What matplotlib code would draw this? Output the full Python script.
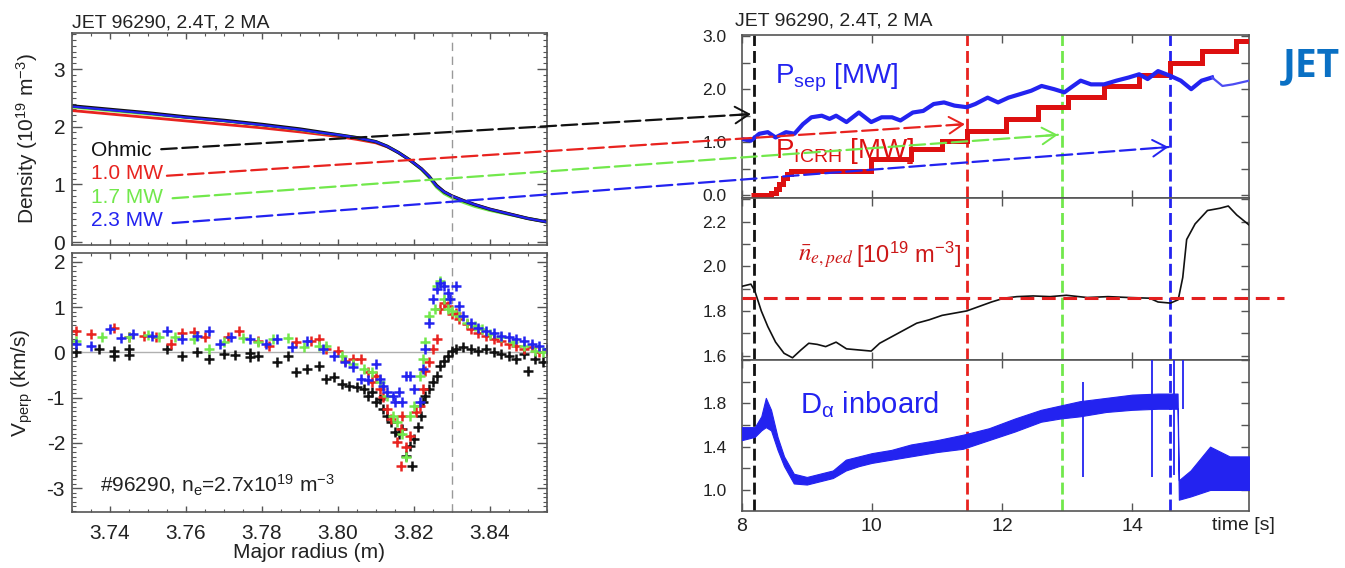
import numpy as np
import matplotlib
matplotlib.use("Agg")
import matplotlib.pyplot as plt
from matplotlib.patches import ConnectionPatch, FancyArrowPatch
from matplotlib.ticker import MultipleLocator, FormatStrFormatter, FuncFormatter

plt.rcParams['font.family'] = ['Liberation Sans', 'DejaVu Sans']
plt.rcParams['mathtext.fontset'] = 'custom'
plt.rcParams['mathtext.rm'] = 'Liberation Sans'
plt.rcParams['mathtext.it'] = 'Liberation Sans:italic'
plt.rcParams['mathtext.bf'] = 'Liberation Sans:bold'
plt.rcParams['axes.unicode_minus'] = False

# ---------------- data: density profiles (left top) ----------------
r_prof = [3.730, 3.740, 3.750, 3.760, 3.770, 3.780, 3.790, 3.795, 3.800, 3.805,
          3.810, 3.813, 3.816, 3.819, 3.822, 3.824, 3.826, 3.828, 3.830, 3.833,
          3.836, 3.840, 3.845, 3.850, 3.855]
n_ohmic = [2.36, 2.30, 2.24, 2.17, 2.11, 2.04, 1.96, 1.91, 1.86, 1.81, 1.74, 1.66, 1.55,
           1.42, 1.27, 1.14, 0.98, 0.87, 0.80, 0.72, 0.65, 0.57, 0.49, 0.41, 0.35]
n_10mw = [2.28, 2.22, 2.16, 2.10, 2.04, 1.98, 1.91, 1.87, 1.83, 1.78, 1.72, 1.65, 1.55,
          1.42, 1.27, 1.14, 0.97, 0.87, 0.80, 0.72, 0.65, 0.57, 0.49, 0.41, 0.35]
n_17mw = [2.34, 2.28, 2.22, 2.16, 2.10, 2.03, 1.95, 1.90, 1.86, 1.81, 1.74, 1.66, 1.55,
          1.42, 1.26, 1.12, 0.95, 0.84, 0.77, 0.69, 0.62, 0.55, 0.48, 0.41, 0.35]
n_23mw = [2.35, 2.29, 2.23, 2.16, 2.10, 2.03, 1.95, 1.90, 1.86, 1.81, 1.74, 1.66, 1.55,
          1.42, 1.27, 1.14, 0.97, 0.87, 0.80, 0.72, 0.65, 0.57, 0.49, 0.41, 0.35]

# ---------------- data: V_perp (left bottom) ----------------
r_ohm = [3.731, 3.737, 3.741, 3.741, 3.745, 3.745, 3.755, 3.759, 3.763, 3.766, 3.770, 3.773,
         3.777, 3.777, 3.779, 3.784, 3.787, 3.789, 3.792, 3.795, 3.797, 3.799, 3.801, 3.803,
         3.805, 3.807, 3.808, 3.809, 3.810, 3.811, 3.812, 3.813, 3.814, 3.815, 3.816, 3.817,
         3.818, 3.819, 3.8195, 3.820, 3.821, 3.822, 3.8225, 3.823, 3.824, 3.825, 3.826, 3.827,
         3.828, 3.829, 3.830, 3.831, 3.833, 3.835, 3.837, 3.839, 3.841, 3.843, 3.845, 3.847,
         3.849, 3.850, 3.852, 3.854]
v_ohm = [0.0, 0.07, 0.04, -0.07, 0.07, -0.06, 0.07, -0.07, 0.0, -0.15, -0.04, -0.06,
         -0.02, -0.09, -0.07, -0.22, -0.07, -0.44, -0.37, -0.29, -0.59, -0.55, -0.70, -0.74,
         -0.77, -0.81, -0.96, -0.88, -1.10, -1.03, -1.25, -1.40, -1.54, -1.76, -1.80, -1.69,
         -2.28, -2.06, -2.50, -1.91, -1.65, -1.40, -1.10, -0.96, -0.81, -0.66, -0.51, -0.29,
         -0.18, -0.07, 0.04, 0.07, 0.11, 0.07, 0.04, 0.07, 0.0, -0.04, -0.07, -0.15,
         -0.04, -0.40, -0.15, -0.22]

r_10 = [3.731, 3.735, 3.741, 3.745, 3.749, 3.752, 3.756, 3.759, 3.762, 3.765, 3.771, 3.774,
        3.779, 3.782, 3.789, 3.793, 3.795, 3.797, 3.800, 3.802, 3.804, 3.806, 3.808, 3.809,
        3.810, 3.811, 3.812, 3.813, 3.814, 3.8155, 3.8165, 3.8165, 3.817, 3.818, 3.819, 3.8205,
        3.8215, 3.8225, 3.823, 3.824, 3.825, 3.826, 3.827, 3.828, 3.829, 3.830, 3.831, 3.832,
        3.834, 3.835, 3.837, 3.839, 3.841, 3.843, 3.845, 3.847, 3.849, 3.851, 3.853, 3.855]
v_10 = [0.48, 0.40, 0.55, 0.33, 0.37, 0.33, 0.18, 0.44, 0.46, 0.33, 0.33, 0.48,
        0.26, 0.15, 0.22, 0.26, 0.29, 0.07, 0.04, -0.18, -0.15, -0.15, -0.44, -0.66,
        -0.51, -0.81, -0.99, -1.25, -1.47, -1.99, -1.69, -2.50, -1.40, -2.10, -1.84, -1.32,
        -1.18, -0.81, -0.40, -0.22, 0.07, 0.29, 0.96, 1.10, 1.03, 0.85, 0.88, 0.74,
        0.63, 0.51, 0.44, 0.37, 0.29, 0.26, 0.18, 0.15, 0.07, 0.11, 0.0, 0.04]

r_17 = [3.731, 3.738, 3.745, 3.750, 3.753, 3.757, 3.762, 3.766, 3.770, 3.775, 3.779, 3.783,
        3.787, 3.791, 3.795, 3.797, 3.801, 3.804, 3.807, 3.809, 3.811, 3.813, 3.8145, 3.8155,
        3.817, 3.818, 3.819, 3.820, 3.8215, 3.8225, 3.823, 3.824, 3.8255, 3.826, 3.827, 3.828,
        3.829, 3.830, 3.832, 3.834, 3.836, 3.838, 3.840, 3.843, 3.846, 3.849, 3.852, 3.854]
v_17 = [0.26, 0.33, 0.35, 0.38, 0.33, 0.33, 0.29, 0.07, 0.22, 0.31, 0.22, 0.29,
        0.31, 0.11, 0.15, 0.15, -0.07, -0.26, -0.37, -0.44, -0.66, -0.96, -1.40, -1.54,
        -1.80, -2.32, -1.40, -1.18, -0.51, -0.15, 0.22, 0.81, 0.96, 1.47, 1.58, 1.18,
        0.96, 0.92, 0.81, 0.66, 0.59, 0.51, 0.40, 0.33, 0.22, 0.15, 0.04, 0.0]

r_23 = [3.731, 3.735, 3.740, 3.743, 3.746, 3.751, 3.755, 3.759, 3.763, 3.766, 3.769, 3.772,
        3.777, 3.781, 3.784, 3.788, 3.792, 3.796, 3.799, 3.802, 3.804, 3.806, 3.808, 3.810,
        3.811, 3.812, 3.813, 3.8145, 3.815, 3.816, 3.817, 3.818, 3.819, 3.820, 3.8215, 3.8225,
        3.823, 3.824, 3.825, 3.826, 3.827, 3.828, 3.829, 3.8295, 3.831, 3.832, 3.833, 3.835,
        3.837, 3.839, 3.841, 3.843, 3.845, 3.847, 3.849, 3.851, 3.853, 3.855]
v_23 = [0.18, 0.15, 0.51, 0.31, 0.40, 0.37, 0.48, 0.29, 0.37, 0.48, 0.18, 0.35,
        0.29, 0.18, 0.29, 0.11, 0.26, 0.07, -0.07, -0.22, -0.33, -0.59, -0.62, -0.26,
        -0.59, -0.74, -0.88, -0.96, -1.10, -0.88, -1.10, -0.51, -0.51, -0.81, -1.10, -0.37,
        0.07, 0.66, 1.18, 1.40, 1.54, 1.47, 1.32, 1.18, 1.47, 1.03, 0.81, 0.66,
        0.55, 0.48, 0.44, 0.37, 0.33, 0.29, 0.26, 0.18, 0.15, 0.07]

# ---------------- data: time traces (right) ----------------
t_psep = [8.0, 8.14, 8.27, 8.40, 8.52, 8.68, 8.81, 8.94, 9.07, 9.23, 9.35, 9.45, 9.61,
          9.80, 9.99, 10.15, 10.31, 10.44, 10.63, 10.79, 10.95, 11.11, 11.27, 11.46,
          11.59, 11.78, 11.94, 12.10, 12.29, 12.45, 12.61, 12.80, 12.96, 13.06, 13.21,
          13.37, 13.57, 13.76, 13.95, 14.11, 14.24, 14.40, 14.59, 14.75, 14.91, 15.07,
          15.23, 15.39, 15.55, 15.80]
p_sep = [1.06, 1.03, 1.16, 1.19, 1.09, 1.19, 1.16, 1.34, 1.47, 1.50, 1.44, 1.50, 1.38,
         1.56, 1.38, 1.47, 1.47, 1.41, 1.56, 1.59, 1.72, 1.75, 1.69, 1.66, 1.72, 1.84,
         1.75, 1.84, 1.91, 1.97, 2.06, 2.00, 1.94, 2.03, 2.16, 2.09, 2.09, 2.16, 2.22,
         2.28, 2.19, 2.34, 2.25, 2.16, 2.00, 2.16, 2.22, 2.06, 2.09, 2.16]

icrh_edges = [8.14, 8.45, 8.52, 8.58, 8.64, 8.70, 8.76, 9.99, 10.60, 11.08, 11.46, 12.07,
              12.55, 13.02, 13.57, 14.10, 14.59, 15.07, 15.60, 15.80]
icrh_levels = [0.0, 0.05, 0.12, 0.22, 0.32, 0.40, 0.45, 0.68, 0.88, 1.02, 1.22, 1.44,
               1.66, 1.86, 2.06, 2.27, 2.50, 2.72, 2.90]

t_ne = [8.0, 8.14, 8.20, 8.30, 8.40, 8.52, 8.65, 8.78, 8.91, 9.03, 9.16, 9.29, 9.45, 9.61,
        9.80, 9.99, 10.12, 10.31, 10.50, 10.69, 10.88, 11.08, 11.27, 11.46, 11.65, 11.84,
        12.03, 12.23, 12.48, 12.74, 12.99, 13.31, 13.63, 13.95, 14.27, 14.40, 14.59, 14.71,
        14.78, 14.84, 14.97, 15.16, 15.35, 15.48, 15.61, 15.80]
ne_ped = [1.91, 1.92, 1.89, 1.80, 1.73, 1.66, 1.61, 1.59, 1.625, 1.655, 1.65, 1.64, 1.66,
          1.63, 1.625, 1.62, 1.655, 1.685, 1.715, 1.745, 1.76, 1.78, 1.79, 1.80, 1.82, 1.84,
          1.857, 1.864, 1.867, 1.864, 1.87, 1.86, 1.864, 1.86, 1.857, 1.84, 1.835, 1.85,
          1.95, 2.12, 2.19, 2.25, 2.26, 2.27, 2.23, 2.185]
ne_ref = 1.86

t_da = [8.0, 8.2, 8.3, 8.37, 8.45, 8.55, 8.65, 8.8, 9.0, 9.2, 9.4, 9.6, 9.8, 10.0, 10.3,
        10.6, 11.0, 11.4, 11.8, 12.2, 12.6, 12.9, 13.2, 13.6, 14.0, 14.4, 14.7, 14.72, 14.9,
        15.2, 15.5, 15.8]
da_lo = [1.46, 1.49, 1.55, 1.58, 1.55, 1.37, 1.22, 1.06, 1.05, 1.08, 1.11, 1.18, 1.22, 1.25,
         1.28, 1.31, 1.35, 1.38, 1.46, 1.54, 1.63, 1.66, 1.68, 1.72, 1.74, 1.75, 1.75, 0.91,
         0.94, 1.00, 1.00, 1.00]
da_hi = [1.58, 1.58, 1.68, 1.85, 1.74, 1.49, 1.31, 1.15, 1.12, 1.15, 1.18, 1.28, 1.31, 1.34,
         1.37, 1.42, 1.46, 1.51, 1.57, 1.66, 1.74, 1.78, 1.82, 1.85, 1.88, 1.89, 1.89, 1.09,
         1.18, 1.40, 1.31, 1.31]
spike_t = [13.25, 14.30, 14.65, 14.78]
spike_lo = [1.12, 1.12, 1.14, 1.75]
spike_hi = [2.00, 2.20, 2.20, 2.20]

# times marked on the traces, and the arrows linking the two halves
mark_times = [8.19, 11.46, 12.93, 14.59]
case_labels = ["Ohmic", "1.0 MW", "1.7 MW", "2.3 MW"]
arrow_start = [(3.7535, 1.61), (3.7550, 1.15), (3.7565, 0.76), (3.7565, 0.33)]
arrow_end = [(8.14, 1.53), (11.43, 1.34), (12.86, 1.14), (14.56, 0.91)]

RED = '#e8231f'
GREEN = '#72e84c'
BLUE = '#2323f0'
BLACK = '#111111'
SPINE = '#555555'
case_colors = [BLACK, RED, GREEN, BLUE]


def idl_style(ax, size, major_len, minor_len):
    for s in ax.spines.values():
        s.set_color(SPINE)
        s.set_linewidth(1.2)
    ax.tick_params(which='both', direction='in', top=True, right=True,
                   colors=SPINE, labelcolor='#222222', labelsize=size)
    ax.tick_params(which='major', length=major_len, width=1.0)
    ax.tick_params(which='minor', length=minor_len, width=0.8)


fig = plt.figure(figsize=(13.45, 5.68), dpi=100)
axL1 = fig.add_axes([0.0535, 0.5687, 0.3530, 0.3738])
axL2 = fig.add_axes([0.0535, 0.0991, 0.3530, 0.4549])
axR1 = fig.add_axes([0.5515, 0.6514, 0.3772, 0.2870])
axR2 = fig.add_axes([0.5515, 0.3662, 0.3772, 0.2852])
axR3 = fig.add_axes([0.5515, 0.1004, 0.3772, 0.2658])

# ---- left top: density profiles ----
axL1.plot(r_prof, n_10mw, color=RED, lw=2.0)
axL1.plot(r_prof, n_17mw, color=GREEN, lw=2.2)
axL1.plot(r_prof, n_ohmic, color=BLACK, lw=2.4)
axL1.plot(r_prof, n_23mw, color=BLUE, lw=1.6)
axL1.axvline(3.83, color='#999999', lw=1.0, ls=(0, (6, 4)))
axL1.set_xlim(3.73, 3.855)
axL1.set_ylim(-0.05, 3.63)
idl_style(axL1, 15, 7, 3)
axL1.xaxis.set_major_locator(MultipleLocator(0.02))
axL1.xaxis.set_minor_locator(MultipleLocator(0.005))
axL1.yaxis.set_major_locator(MultipleLocator(1))
axL1.yaxis.set_minor_locator(MultipleLocator(0.1))
axL1.tick_params(axis='x', which='major', length=4)
axL1.tick_params(axis='x', which='minor', length=2.5)
axL1.tick_params(axis='y', pad=5)
axL1.set_xticklabels([])
axL1.set_ylabel(r"Density (10$^{19}$ m$^{-3}$)", fontsize=15, color='#222222')
axL1.yaxis.set_label_coords(-0.068, 0.5)
label_y = [0.447, 0.336, 0.224, 0.113]
for lab, col, ly in zip(case_labels, case_colors, label_y):
    axL1.text(0.040, ly, lab, color=col, fontsize=15, va='center', ha='left',
              transform=axL1.transAxes)

# ---- left bottom: V_perp ----
axL2.axhline(0, color='#b0b0b0', lw=1.0)
axL2.axvline(3.83, color='#999999', lw=1.0, ls=(0, (6, 4)))
for rr, vv, col in [(r_ohm, v_ohm, BLACK), (r_10, v_10, RED), (r_17, v_17, GREEN),
                    (r_23, v_23, BLUE)]:
    axL2.plot(rr, vv, ls='none', marker='+', ms=7, mew=1.8, color=col)
axL2.set_xlim(3.73, 3.855)
axL2.set_ylim(-3.52, 2.19)
idl_style(axL2, 15, 7, 3)
axL2.xaxis.set_major_locator(MultipleLocator(0.02))
axL2.xaxis.set_minor_locator(MultipleLocator(0.005))
axL2.xaxis.set_major_formatter(FormatStrFormatter('%.2f'))
axL2.yaxis.set_major_locator(MultipleLocator(1))
axL2.yaxis.set_minor_locator(MultipleLocator(0.1))
axL2.tick_params(axis='x', which='major', length=4, pad=9)
axL2.tick_params(axis='x', which='minor', length=2.5)
axL2.tick_params(axis='y', pad=5)
axL2.set_ylabel(r"V$_{\rm perp}$ (km/s)", fontsize=15, color='#222222')
axL2.yaxis.set_label_coords(-0.078, 0.5)
axL2.set_xlabel("Major radius (m)", fontsize=15, color='#222222')
axL2.xaxis.set_label_coords(0.5, -0.122)
axL2.text(0.059, 0.103, r"#96290, n$_{\rm e}$=2.7x10$^{19}$ m$^{-3}$", fontsize=15,
          color='#222222', va='center', transform=axL2.transAxes)

# ---- right panels ----
for ax in (axR1, axR2, axR3):
    for t, col in zip(mark_times, case_colors):
        ax.axvline(t, color=col, lw=2.0, ls=(0, (4.3, 1.8)), zorder=1)
    ax.set_xlim(8.0, 15.8)
    idl_style(ax, 12.5, 6, 3)
    ax.xaxis.set_major_locator(MultipleLocator(2))
    ax.tick_params(axis='y', pad=11)

# top: powers
axR1.stairs(icrh_levels, icrh_edges, baseline=None, color='#dd1010', lw=3.6, zorder=3)
psep_cut = 46
axR1.plot(t_psep[:psep_cut + 1], p_sep[:psep_cut + 1], color=BLUE, lw=3.0, zorder=4)
axR1.plot(t_psep[psep_cut:], p_sep[psep_cut:], color='#4c4cf2', lw=1.6, zorder=4)
axR1.set_ylim(-0.05, 3.02)
axR1.yaxis.set_major_locator(MultipleLocator(0.5))
axR1.yaxis.set_major_formatter(FuncFormatter(
    lambda v, p: f"{v:.1f}" if abs(v - round(v)) < 1e-6 else ""))
axR1.set_xticklabels([])
axR1.text(0.066, 0.705, r"P$_{\rm sep}$ [MW]", color=BLUE, fontsize=20,
          transform=axR1.transAxes, va='baseline')
axR1.text(0.066, 0.245, r"P$_{\rm ICRH}$ [MW]", color='#dd1010', fontsize=20,
          transform=axR1.transAxes, va='baseline', zorder=2)

# middle: pedestal density
axR2.plot(t_ne, ne_ped, color=BLACK, lw=1.2, zorder=3)
axR2.plot([8.0, 16.33], [ne_ref, ne_ref], color='#e32020', lw=2.2,
          ls=(0, (4.5, 2.5)), clip_on=False, zorder=4)
axR2.set_ylim(1.58, 2.306)
axR2.yaxis.set_major_locator(MultipleLocator(0.1))
axR2.yaxis.set_major_formatter(FuncFormatter(
    lambda v, p: f"{v:.1f}" if round(v * 10) % 2 == 0 else ""))
axR2.set_xticklabels([])
ne_sym = axR2.text(0.111, 0.605, r"$\bar{n}_{e,ped}$", color='#cc1818', fontsize=18,
                   transform=axR2.transAxes, va='baseline', math_fontfamily='stix')
axR2.annotate(r"[10$^{19}$ m$^{-3}$]", xy=(1, 0), xycoords=ne_sym, xytext=(2, 1),
              textcoords='offset points', va='bottom', color='#cc1818', fontsize=17)

# bottom: D-alpha
axR3.fill_between(t_da, da_lo, da_hi, color=BLUE, lw=0.8, zorder=3)
axR3.vlines(spike_t, spike_lo, spike_hi, color=BLUE, lw=1.3, zorder=3)
axR3.set_ylim(0.806, 2.2)
axR3.yaxis.set_major_locator(MultipleLocator(0.2))
axR3.yaxis.set_major_formatter(FuncFormatter(
    lambda v, p: f"{v:.1f}" if (round(v * 10) % 4 == 2 and v < 2.0) else ""))
axR3.tick_params(axis='x', labelsize=14, pad=5)
axR3.text(0.115, 0.649, r"D$_{\mathrm{\alpha}}$ inboard", color=BLUE, fontsize=21,
          transform=axR3.transAxes, va='baseline')
axR3.text(0.988, -0.04, "time [s]", fontsize=14, color='#222222', ha='center', va='top',
          transform=axR3.transAxes)

# ---- titles ----
fig.text(0.0535, 1 - 27 / 568, "JET 96290, 2.4T, 2 MA", fontsize=14, color='#222222',
         va='baseline')
fig.text(735 / 1345, 1 - 26 / 568, "JET 96290, 2.4T, 2 MA", fontsize=14, color='#222222',
         va='baseline')
fig.text(1283 / 1345, 1 - 76 / 568, "JET", fontsize=28, fontweight='bold',
         color='#0a70c4', family=['Open Sans', 'DejaVu Sans'], va='baseline')

# ---- dashed arrows from the legend to the time traces ----
to_fig = fig.transFigure.inverted()
for (x0, y0), (t1, y1), col in zip(arrow_start, arrow_end, case_colors):
    con = ConnectionPatch(xyA=(x0, y0), coordsA=axL1.transData,
                          xyB=(t1, y1), coordsB=axR1.transData,
                          color=col, lw=1.6, ls=(0, (7, 2.5)), zorder=10)
    fig.add_artist(con)
    pA = np.array(axL1.transData.transform((x0, y0)))
    pB = np.array(axR1.transData.transform((t1, y1)))
    d = (pB - pA) / np.linalg.norm(pB - pA)
    head = FancyArrowPatch(to_fig.transform(pB - 12 * d), to_fig.transform(pB),
                           transform=fig.transFigure, arrowstyle='->,head_length=0.5,head_width=0.3',
                           mutation_scale=20, color=col, lw=1.4, shrinkA=0, shrinkB=0)
    fig.add_artist(head)

fig.savefig("out.png", dpi=100)
